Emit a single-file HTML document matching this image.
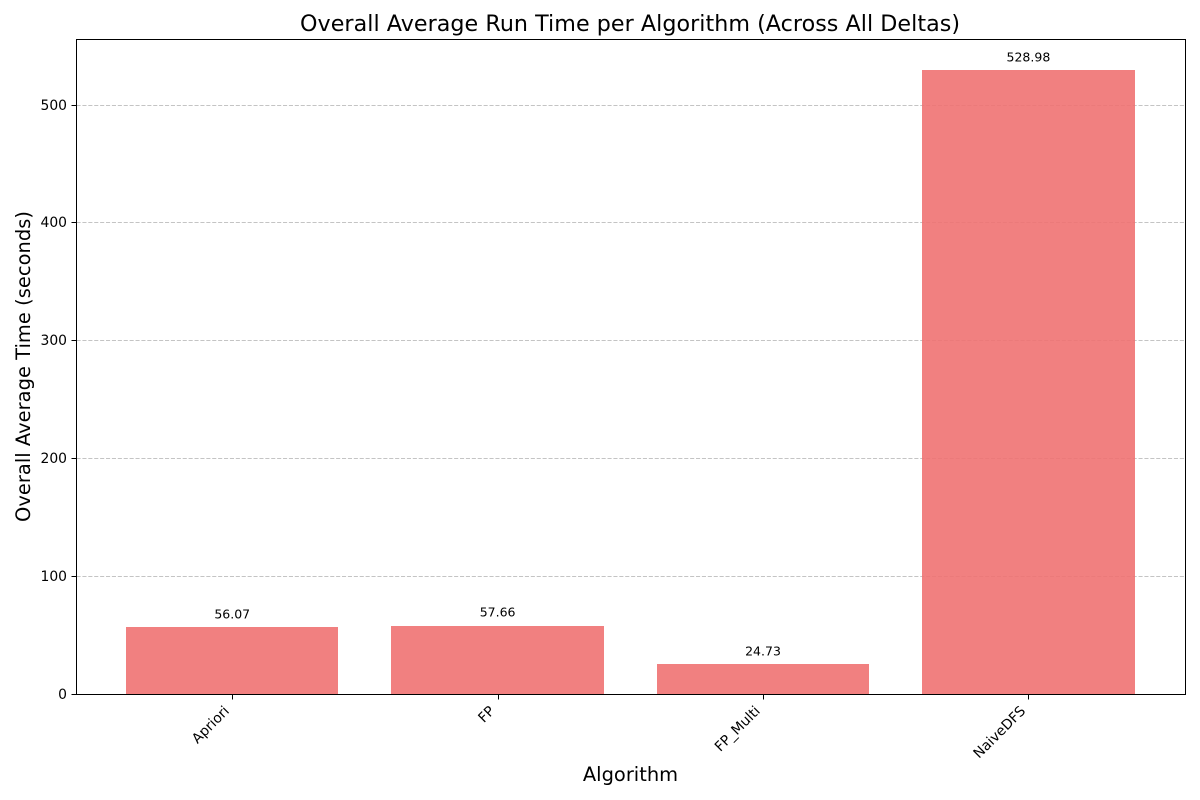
<!DOCTYPE html>
<html lang="en">
<head>
<meta charset="utf-8">
<title>Overall Average Run Time per Algorithm</title>
<style>
html,body{margin:0;padding:0;background:#fff;width:1200px;height:800px;overflow:hidden}
svg{display:block;font-family:"DejaVu Sans",sans-serif;fill:#000}
</style>
</head>
<body>
<svg id="chart" width="1200" height="800" viewBox="0 0 1200 800" xmlns="http://www.w3.org/2000/svg">
<rect x="0" y="0" width="1200" height="800" fill="#ffffff"/>
<text x="630" y="31" font-size="22.2" text-anchor="middle" textLength="660">Overall Average Run Time per Algorithm (Across All Deltas)</text>
<text x="630.5" y="781" font-size="19.44" text-anchor="middle">Algorithm</text>
<text transform="translate(30 366.5) rotate(-90)" font-size="19.44" text-anchor="middle" textLength="311">Overall Average Time (seconds)</text>
<g id="grid"></g>
<g id="bars"></g>
<g id="labels"></g>
<g id="yticks"></g>
<g id="xticks"></g>
<rect x="76.5" y="39.5" width="1109" height="655" fill="none" stroke="#000" stroke-width="1"/>
</svg>
<script>
const categories = ['Apriori', 'FP', 'FP_Multi', 'NaiveDFS'];
const avgTimes = [56.07, 57.66, 24.73, 528.98];
const valueLabels = ['56.07', '57.66', '24.73', '528.98'];
const yTickValues = [0, 100, 200, 300, 400, 500];

const NS = 'http://www.w3.org/2000/svg';
const frameLeft = 76.5, frameRight = 1185.5, axisY = 694.5;
const scaleLeft = 75.65, scaleRight = 1185, scaleTop = 39.3, scaleBottom = 693.5;
const barWidth = 0.8;
const yMax = Math.max(...avgTimes) * 1.05;
const xMin = -0.59, xMax = categories.length - 1 + 0.59;

function xScale(v) {
  return scaleLeft + (v - xMin) / (xMax - xMin) * (scaleRight - scaleLeft);
}
function yScale(v) {
  return scaleBottom - v / yMax * (scaleBottom - scaleTop);
}
function make(tag, attrs, parent, text) {
  const el = document.createElementNS(NS, tag);
  for (const k in attrs) el.setAttribute(k, attrs[k]);
  if (text !== undefined) el.textContent = text;
  parent.appendChild(el);
  return el;
}

const gridG = document.getElementById('grid');
const barsG = document.getElementById('bars');
const labelsG = document.getElementById('labels');
const yTicksG = document.getElementById('yticks');
const xTicksG = document.getElementById('xticks');

yTickValues.forEach(function (t) {
  const y = Math.round(yScale(t)) + 0.5;
  if (t > 0) {
    const g = make('line', { x1: frameLeft, x2: frameRight, y1: y, y2: y, stroke: '#c4c4c4', 'stroke-width': 1, 'stroke-dasharray': '4.1 1.8' }, gridG);
    
    
  }
  const tick = make('line', { x1: frameLeft - 5, x2: frameLeft, y1: y, y2: y, stroke: '#000', 'stroke-width': 1 }, yTicksG);
  
  
  const lab = make('text', { x: frameLeft - 9.5, y: y + 4.5, 'font-size': 13.89, 'text-anchor': 'end' }, yTicksG, String(t));
  
  
});

categories.forEach(function (c, i) {
  const x0 = Math.round(xScale(i - barWidth / 2));
  const x1 = Math.round(xScale(i + barWidth / 2));
  const rawTop = yScale(avgTimes[i]);
  const top = Math.round(rawTop);
  const bar = make('rect', { x: x0, y: top, width: x1 - x0, height: 694 - top, fill: 'rgb(239,114,114)', 'fill-opacity': 0.9 }, barsG);
  
  

  const cx = xScale(i);
  const val = make('text', { x: cx, y: rawTop - 9, 'font-size': 12.5, 'text-anchor': 'middle' }, labelsG, valueLabels[i]);
  
  

  const tx = Math.round(cx) + 0.5;
  const tick = make('line', { x1: tx, x2: tx, y1: axisY, y2: axisY + 5, stroke: '#000', 'stroke-width': 1 }, xTicksG);
  
  
  const lab = make('text', { transform: 'translate(' + (cx - 9) + ' 705) rotate(-45)', 'font-size': 13.89, 'text-anchor': 'end', 'dominant-baseline': 'hanging' }, xTicksG, c);
  
  
});
</script>
</body>
</html>
